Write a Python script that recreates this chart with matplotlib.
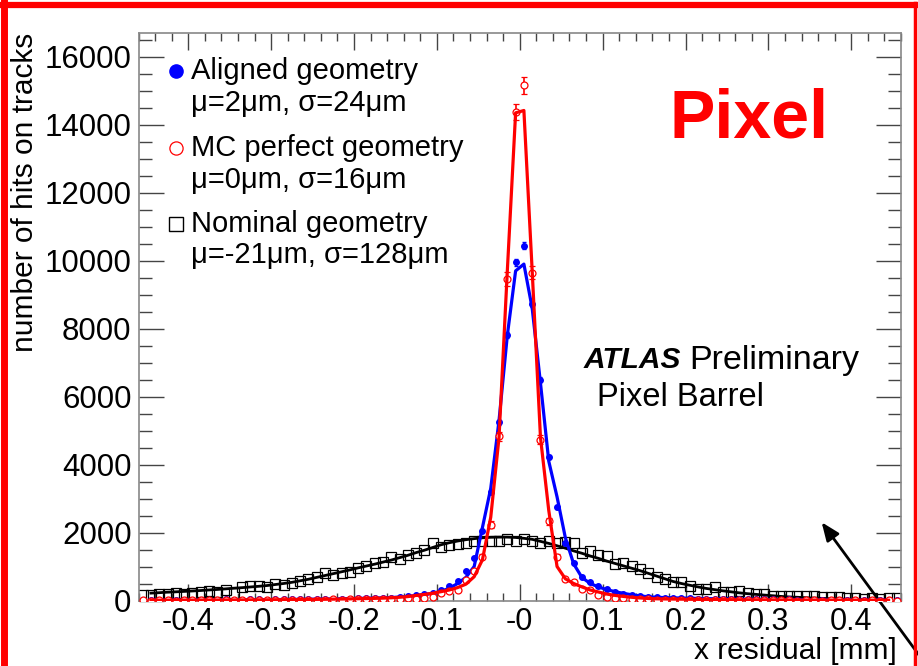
import numpy as np
import matplotlib
matplotlib.use("Agg")
import matplotlib.pyplot as plt
from matplotlib.ticker import FixedLocator, FixedFormatter, MultipleLocator
from matplotlib.lines import Line2D

plt.rcParams['font.family'] = ['Liberation Sans', 'DejaVu Sans']

# bin centres of the residual histograms (0.01 mm bins, -0.46 .. 0.46)
x_bins = np.round(np.arange(-0.455, 0.4551, 0.01), 3)
# points where the fitted curves are drawn
x_fit = np.round(np.arange(-0.445, 0.4451, 0.01), 3)

# Aligned geometry (blue dots)
aligned = [10, 20, 15, 20, 10, 25, 15, 20, 25, 20, 30, 25, 20, 30, 35, 25, 30, 35, 40, 35,
           40, 45, 40, 50, 55, 50, 60, 65, 70, 75,
           85, 100, 120, 150, 190, 230, 300, 441, 588, 862, 1250, 2058, 3180, 5240, 7820, 9950,
           10440, 8730, 6500, 4230, 2740, 1686, 1098, 706, 539, 420, 330, 260, 200, 160, 130, 100,
           90, 80, 75, 70, 60, 55, 50, 55, 45, 40, 45, 35, 30, 35, 30, 25, 30, 20, 25, 20,
           15, 20, 15, 20, 10, 15, 10, 15, 10, 5]
# MC perfect geometry (red open circles)
mc_perfect = [5, 0, 10, 5, 0, 10, 5, 10, 5, 10, 15, 5, 10, 15, 10, 15, 20, 10, 15, 20,
              15, 25, 20, 30, 25, 30, 35, 40, 35, 45,
              40, 50, 60, 50, 70, 100, 210, 290, 314, 590, 882, 1294, 2235, 4830, 9460, 14380,
              15160, 9650, 4730, 2330, 1294, 637, 539, 343, 300, 150, 100, 80, 60, 50, 40, 30,
              25, 20, 25, 15, 20, 10, 15, 10, 15, 5, 10, 15, 5, 10, 5, 10, 5, 0, 10, 5,
              0, 5, 10, 0, 5, 0, 5, 0, 5, 0]
# Nominal geometry (black open squares)
nominal = [176, 176, 196, 196, 216, 196, 235, 255, 274, 245, 314, 216, 392, 421, 412, 392, 490, 470, 510, 588,
           637, 686, 804, 755, 823, 843, 951, 1029, 1117, 1137,
           1294, 1225, 1343, 1402, 1490, 1686, 1568, 1637, 1666, 1686, 1745, 1745, 1764, 1745, 1813, 1764,
           1813, 1764, 1696, 1745, 1686, 1715, 1686, 1392, 1451, 1353, 1304, 1078, 1098, 1029, 931, 810,
           686, 637, 539, 539, 412, 343, 343, 392, 245, 245, 294, 216, 196, 196, 147, 147, 118, 118,
           147, 118, 98, 98, 98, 78, 78, 49, 78, 49, 60, 60]

# fitted curves
fit_aligned = [12, 12, 13, 13, 14, 15, 15, 16, 17, 18, 19, 20, 22, 23, 25, 27, 29, 31, 34, 37,
               40, 43, 47, 51, 56, 61, 66, 72,
               78, 88, 100, 120, 145, 175, 210, 270, 360, 500, 680, 1000, 2150, 3300, 5300, 7800, 9700,
               9900, 8600, 6400, 4100, 3050, 1850, 1080, 680, 500, 400, 320, 260, 210, 170, 135, 110, 95,
               85, 78, 72, 66, 61, 56, 51, 47, 43, 40, 37, 34, 31, 29, 27, 25, 23, 22, 20, 19,
               18, 17, 16, 15, 14, 13, 13, 12]
fit_mc = [10, 10, 11, 11, 12, 12, 13, 13, 14, 15, 16, 17, 18, 19, 20, 22, 24, 26, 28, 30,
          33, 36, 40, 44, 48, 53, 58, 63,
          70, 80, 95, 115, 150, 180, 215, 260, 310, 380, 480, 700, 1200, 2450, 4800, 9700, 14350,
          14420, 9700, 4800, 2650, 1000, 640, 500, 400, 310, 250, 190, 150, 120, 95, 75, 60, 50,
          45, 42, 39, 36, 33, 30, 28, 26, 24, 22, 20, 19, 18, 17, 16, 15, 14, 13, 13, 12,
          12, 11, 11, 10, 10, 10, 9, 9]
fit_nominal = [217, 230, 245, 255, 268, 280, 294, 310, 325, 342, 362, 378, 398, 418, 440, 470, 500, 535, 580, 625,
               680, 735, 790, 845, 900, 960, 1015, 1070, 1130, 1190, 1260, 1330, 1410, 1480, 1560, 1640, 1700,
               1750, 1790, 1820, 1845, 1860, 1865, 1865, 1855,
               1830, 1800, 1740, 1680, 1610, 1540, 1460, 1390, 1310, 1240, 1160, 1090, 1020, 950, 880, 800,
               720, 640, 560, 500, 450, 400, 355, 320, 285, 255, 225, 200, 180, 160, 140, 120, 105, 95,
               82, 72, 62, 52, 45, 38, 32, 27, 22, 18, 15]

leg_names = ["Aligned geometry", "MC perfect geometry", "Nominal geometry"]
leg_params = ["\u03bc=2\u03bcm, \u03c3=24\u03bcm", "\u03bc=0\u03bcm, \u03c3=16\u03bcm",
              "\u03bc=-21\u03bcm, \u03c3=128\u03bcm"]
x_ticks = [-0.4, -0.3, -0.2, -0.1, 0.0, 0.1, 0.2, 0.3, 0.4]
x_tick_labels = ["-0.4", "-0.3", "-0.2", "-0.1", "-0", "0.1", "0.2", "0.3", "0.4"]

W, H = 918, 666
fig = plt.figure(figsize=(W / 100, H / 100), dpi=100)
ax = fig.add_axes([138.5 / W, 1 - 600.5 / H, (901 - 138.5) / W, (600.5 - 33) / H])

aligned = np.array(aligned, float)
mc_perfect = np.array(mc_perfect, float)
nominal = np.array(nominal, float)

ax.plot(x_bins, nominal, ls='none', marker='s', ms=6.8, mfc='none', mec='black', mew=0.9, zorder=2)
ax.plot(x_fit, fit_nominal, color='black', lw=2.0, zorder=3)
ax.errorbar(x_bins, aligned, yerr=np.sqrt(aligned), fmt='o', ms=4, color='blue', mec='blue',
            elinewidth=1.2, capsize=1.5, zorder=4)
ax.plot(x_fit, fit_aligned, color='blue', lw=2.3, zorder=5)
ax.errorbar(x_bins, mc_perfect, yerr=2 * np.sqrt(mc_perfect), fmt='o', ms=5, color='red', mfc='white',
            mec='red', mew=0.9, elinewidth=1.2, capsize=2, zorder=6)
ax.plot(x_fit, fit_mc, color='red', lw=2.3, zorder=7)

ax.set_xlim(-0.46, 0.46)
ax.set_ylim(0, 16700)
ax.xaxis.set_major_locator(FixedLocator(x_ticks))
ax.xaxis.set_major_formatter(FixedFormatter(x_tick_labels))
ax.xaxis.set_minor_locator(MultipleLocator(0.02))
ax.yaxis.set_major_locator(MultipleLocator(2000))
ax.yaxis.set_minor_locator(MultipleLocator(500))

ax.tick_params(axis='both', which='both', direction='in', top=True, right=True,
               color='#444444', width=1.0, labelsize=22.5)
ax.tick_params(axis='y', which='major', length=18, pad=5)
ax.tick_params(axis='y', which='minor', length=9.5)
ax.tick_params(axis='x', which='major', length=12, pad=5, labelsize=22)
ax.tick_params(axis='x', which='minor', length=6)
for s in ax.spines.values():
    s.set_color('#888888')
    s.set_linewidth(1.2)

ax.set_xlabel("x residual [mm]", fontsize=21.5, loc='right')
ax.xaxis.set_label_coords(0.995, -0.0645)
ax.set_ylabel("number of hits on tracks", fontsize=21.5, loc='top')
ax.yaxis.set_label_coords(-0.13, 1.0)

# legend drawn by hand to keep ROOT-like layout
mk_x = (176 - 138.5) / (901 - 138.5)
tx_x = (191 - 138.5) / (901 - 138.5)
rows = [(71, 103), (148, 180), (224, 255)]
styles = [dict(marker='o', mfc='blue', mec='blue'),
          dict(marker='o', mfc='white', mec='red', mew=0.9),
          dict(marker='s', mfc='white', mec='black', mew=1.0)]
for (y1, y2), name, par, st in zip(rows, leg_names, leg_params, styles):
    fy1 = (600.5 - y1) / (600.5 - 33)
    fy2 = (600.5 - y2) / (600.5 - 33)
    ax.plot([mk_x], [fy1], transform=ax.transAxes, ms=9.5, ls='none', clip_on=False, **st)
    ax.text(tx_x, fy1, name, transform=ax.transAxes, fontsize=21, va='center', ha='left')
    ax.text(tx_x, fy2, par, transform=ax.transAxes, fontsize=21, va='center', ha='left')

ax.text((670 - 138.5) / (901 - 138.5), (600.5 - 120) / (600.5 - 33), "Pixel", transform=ax.transAxes,
        fontsize=49, fontweight='bold', color='red', va='center', ha='left')
ax.text((584 - 138.5) / (901 - 138.5), (600.5 - 360) / (600.5 - 33), "ATLAS", transform=ax.transAxes,
        fontsize=21.5, fontweight='bold', style='italic', va='center', ha='left')
ax.text((689 - 138.5) / (901 - 138.5), (600.5 - 360) / (600.5 - 33), "Preliminary", transform=ax.transAxes,
        fontsize=24.5, va='center', ha='left')
ax.text((597 - 138.5) / (901 - 138.5), (600.5 - 398) / (600.5 - 33), "Pixel Barrel", transform=ax.transAxes,
        fontsize=23.5, va='center', ha='left')

# arrow pointing into the empty region
ax.annotate("", xy=(820 / W, 1 - 520 / H), xycoords='figure fraction',
            xytext=(927 / W, 0.0), textcoords='figure fraction', annotation_clip=False,
            arrowprops=dict(arrowstyle='-|>,head_length=1.1,head_width=0.45', color='black', lw=2))

# red frame around the picture
fig.add_artist(Line2D([3.5 / W, 3.5 / W], [0, 1 - 2 / H], color='red', lw=5, transform=fig.transFigure))
fig.add_artist(Line2D([0, 1 - 3 / W], [1 - 5 / H, 1 - 5 / H], color='red', lw=4.5, transform=fig.transFigure))
fig.add_artist(Line2D([915 / W, 915 / W], [0, 1 - 3 / H], color='red', lw=2.5, transform=fig.transFigure))

fig.savefig("out.png", dpi=100)
